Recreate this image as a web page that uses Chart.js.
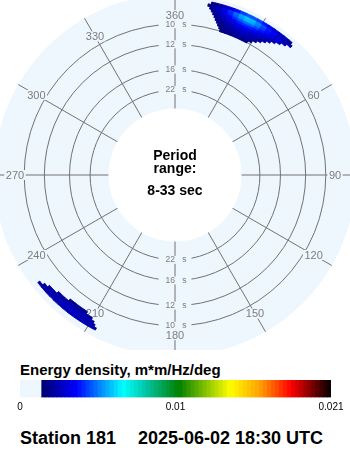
<!DOCTYPE html>
<html>
<head>
<meta charset="utf-8">
<script src="https://cdn.jsdelivr.net/npm/chart.js@4/dist/chart.umd.min.js"></script>
<style>
  html, body { margin:0; padding:0; background:#fff; }
  body { width:350px; height:450px; position:relative; overflow:hidden; font-family:"Liberation Sans", Arial, sans-serif; }
  #polarWrap { position:absolute; left:0; top:0; width:350px; height:350px; overflow:hidden; }
  #polar { position:absolute; left:-6px; top:-6px; }
  #cbTitle { position:absolute; left:20px; top:362px; font-weight:bold; font-size:15px; line-height:15px; white-space:nowrap; color:#000; }
  #cbar { position:absolute; left:0; top:370px; }
  .station { position:absolute; top:429px; font-weight:bold; font-size:18px; line-height:18px; white-space:nowrap; color:#000; }
</style>
</head>
<body>
<div id="polarWrap"><canvas id="polar" width="362" height="362"></canvas></div>
<div id="cbTitle">Energy density, m*m/Hz/deg</div>
<canvas id="cbar" width="350" height="45"></canvas>
<div class="station" id="st1" style="left:20px"></div>
<div class="station" id="st2" style="left:138px"></div>
<script>
// ---------------- data ----------------
const angleLabels = ['360','30','60','90','120','150','180','210','240','270','300','330'];
const ringPeriods = [10, 12, 16, 22];          // labelled period rings (s)
const periodRange = [8, 33];                   // s
const stationName = 'Station 181';
const timeStamp = '2025-06-02 18:30 UTC';

// radial axis: linear in frequency (Hz)
const FREQ_AT_CENTER = -0.0248;
const FREQ_AT_EDGE = 0.125;

// energy cells: frequency band edges (outer -> inner, Hz), direction bins of 2 deg
const bandEdges = [0.1215, 0.1195, 0.1175, 0.1155, 0.1135, 0.1115, 0.1095, 0.1075, 0.1055, 0.1035, 0.1015, 0.0995];
const DIR_BIN = 2;

// north-east swell: angular extent of each band (deg), first bin, energy per 2-deg bin
const neLeft  = [12.0, 11.0, 11.8, 12.5, 13.2, 13.9, 14.5, 15.2, 15.9, 16.6, 17.2];
const neRight = [41.5, 42.2, 40.5, 38.8, 37.2, 35.7, 34.3, 32.9, 31.5, 30.0, 28.5];
const neStartBin = [12, 10, 10, 12, 12, 12, 14, 14, 14, 16, 16];
const neEnergy = [
  [0.0018,0.0022,0.0027,0.0033,0.0039,0.0045,0.0048,0.0048,0.0045,0.0040,0.0035,0.0031,0.0028,0.0025,0.0022],
  [0.0015,0.0021,0.0027,0.0035,0.0043,0.0051,0.0058,0.0062,0.0060,0.0054,0.0047,0.0041,0.0036,0.0032,0.0028,0.0025,0.0021],
  [0.0015,0.0021,0.0026,0.0033,0.0041,0.0049,0.0056,0.0060,0.0058,0.0052,0.0045,0.0039,0.0034,0.0030,0.0026,0.0023],
  [0.0019,0.0024,0.0030,0.0036,0.0043,0.0048,0.0051,0.0050,0.0046,0.0040,0.0035,0.0031,0.0027,0.0024],
  [0.0017,0.0022,0.0026,0.0032,0.0037,0.0041,0.0043,0.0042,0.0039,0.0035,0.0031,0.0027,0.0024],
  [0.0016,0.0020,0.0024,0.0028,0.0032,0.0035,0.0037,0.0036,0.0033,0.0030,0.0027,0.0024],
  [0.0018,0.0021,0.0024,0.0027,0.0030,0.0031,0.0030,0.0028,0.0025,0.0023,0.0021],
  [0.0017,0.0019,0.0022,0.0025,0.0027,0.0028,0.0027,0.0025,0.0023,0.0021],
  [0.0016,0.0018,0.0020,0.0022,0.0024,0.0025,0.0024,0.0022,0.0020],
  [0.0017,0.0019,0.0020,0.0021,0.0022,0.0021,0.0019],
  [0.0016,0.0017,0.0018,0.0019,0.0019,0.0018,0.0017]
];
// south-west swell (bands 1..5)
const swLeft  = [0, 207.2, 208.1, 208.9, 210.1, 212.6, 0, 0, 0, 0, 0];
const swRight = [0, 231.9, 230.3, 228.7, 225.0, 220.2, 0, 0, 0, 0, 0];
const swStartBin = [0, 206, 208, 208, 210, 212, 0, 0, 0, 0, 0];
const swEnergy = [
  [],
  [0.0022,0.0024,0.0025,0.0026,0.0026,0.0026,0.0026,0.0026,0.0025,0.0025,0.0024,0.0023,0.0022],
  [0.0023,0.0025,0.0026,0.0027,0.0027,0.0027,0.0026,0.0026,0.0025,0.0024,0.0023,0.0022],
  [0.0022,0.0024,0.0025,0.0026,0.0026,0.0026,0.0025,0.0024,0.0023,0.0022,0.0021],
  [0.0021,0.0022,0.0023,0.0024,0.0023,0.0022,0.0021,0.0020],
  [0.0019,0.0020,0.0021,0.0020,0.0019],
  [], [], [], [], []
];

// colour scale
const VMAX = 0.021;
const THRESHOLD = 0.00142;
const cbTickValues = [0, 0.0105, 0.021];
const cbTickLabels = ['0', '0.01', '0.021'];

// ---------------- style ----------------
const DISK_COLOR = '#eef6fe';
const GRID_COLOR = '#737373';
const LABEL_COLOR = '#7d7d7d';
const TRANSPARENT = 'rgba(0,0,0,0)';
const CMAP = [
  [0.0675, [0, 0, 110]],
  [0.18,   [0, 0, 255]],
  [0.26,   [0, 140, 255]],
  [0.33,   [0, 255, 255]],
  [0.40,   [0, 200, 170]],
  [0.51,   [0, 128, 0]],
  [0.675,  [255, 255, 0]],
  [0.77,   [255, 160, 0]],
  [0.87,   [255, 0, 0]],
  [1.0,    [0, 0, 0]]
];
function cmap(v) {
  const p = v / VMAX;
  if (p <= CMAP[0][0]) return `rgb(${CMAP[0][1].join(',')})`;
  for (let i = 1; i < CMAP.length; i++) {
    if (p <= CMAP[i][0]) {
      const [p0, c0] = CMAP[i - 1], [p1, c1] = CMAP[i];
      const t = (p - p0) / (p1 - p0);
      const c = c0.map((a, k) => Math.round(a + (c1[k] - a) * t));
      return `rgb(${c.join(',')})`;
    }
  }
  return 'rgb(0,0,0)';
}
function cellColor(v) { return (v === undefined || v < THRESHOLD) ? TRANSPARENT : cmap(v); }

// ---------------- polar chart ----------------
// each frequency band is one doughnut ring: transparent gaps + coloured cells (angular widths in deg)
const bandDatasets = [];
for (let b = 0; b < bandEdges.length - 1; b++) {
  const segs = [];
  if (neEnergy[b] && neEnergy[b].length) segs.push([neLeft[b], neRight[b], neStartBin[b], neEnergy[b]]);
  if (swEnergy[b] && swEnergy[b].length) segs.push([swLeft[b], swRight[b], swStartBin[b], swEnergy[b]]);
  const widths = [], colors = [];
  let cursor = 0;
  segs.forEach(([l, r, start, vals]) => {
    widths.push(l - cursor); colors.push(TRANSPARENT);
    vals.forEach((v, k) => {
      const a = Math.max(start + k * DIR_BIN, l);
      const e = Math.min(start + (k + 1) * DIR_BIN, r);
      if (e > a) { widths.push(e - a); colors.push(cellColor(v)); }
    });
    cursor = r;
  });
  widths.push(360 - cursor); colors.push(TRANSPARENT);
  bandDatasets.push({
    data: widths,
    weight: bandEdges[b] - bandEdges[b + 1],
    backgroundColor: colors,
    borderColor: colors,
    borderWidth: colors.map(c => c === TRANSPARENT ? 0 : 1),
    borderAlign: 'center'
  });
}
const holeFreq = 1 / periodRange[1];
const datasets = [
  { data: [1], weight: FREQ_AT_EDGE - bandEdges[0], backgroundColor: TRANSPARENT, borderWidth: 0 },
  ...bandDatasets,
  { data: [1], weight: bandEdges[bandEdges.length - 1] - holeFreq, backgroundColor: TRANSPARENT, borderWidth: 0 },
  { data: [1], weight: holeFreq - FREQ_AT_CENTER, backgroundColor: '#ffffff', borderWidth: 0 }
];

const polarText = {
  id: 'polarText',
  beforeDatasetsDraw(chart) {
    const s = chart.scales.r, ctx = chart.ctx;
    ctx.save();
    ctx.textAlign = 'center';
    ctx.textBaseline = 'middle';
    // direction labels
    ctx.font = '11px "Liberation Sans", Arial, sans-serif';
    const rl = s.drawingArea * 0.884;
    angleLabels.forEach((lab, i) => {
      const p = s.getPointPosition(i, rl);
      const w = ctx.measureText(lab).width;
      ctx.fillStyle = DISK_COLOR;
      ctx.fillRect(p.x - w / 2 - 1.5, p.y - 5, w + 3, 10);
      ctx.fillStyle = LABEL_COLOR;
      ctx.fillText(lab, p.x, p.y + 0.5);
    });
    // ring labels, above and below the centre
    ctx.font = '8.5px "Liberation Sans", Arial, sans-serif';
    ringPeriods.forEach(per => {
      const d = s.getDistanceFromCenterForValue(1 / per);
      const txt = per + '   s';
      const w = ctx.measureText(txt).width;
      [-1, 1].forEach(sign => {
        const y = s.yCenter + sign * d;
        ctx.fillStyle = DISK_COLOR;
        ctx.fillRect(s.xCenter - w / 2 - 6, y - 4, w + 12, 8);
        ctx.fillStyle = LABEL_COLOR;
        ctx.fillText(txt, s.xCenter + 1, y);
      });
    });
    ctx.restore();
  },
  afterDatasetsDraw(chart) {
    const s = chart.scales.r, ctx = chart.ctx;
    ctx.save();
    ctx.fillStyle = '#000';
    ctx.textAlign = 'center';
    ctx.textBaseline = 'alphabetic';
    ctx.font = 'bold 14px "Liberation Sans", Arial, sans-serif';
    const lines = ['Period', 'range:', periodRange[0] + '-' + periodRange[1] + ' sec'];
    const offs = [-15, -2, 20];
    lines.forEach((t, i) => ctx.fillText(t, s.xCenter, s.yCenter + offs[i]));
    ctx.restore();
  }
};

new Chart(document.getElementById('polar'), {
  type: 'doughnut',
  data: { labels: angleLabels, datasets },
  options: {
    responsive: false,
    animation: false,
    events: [],
    cutout: 0,
    rotation: 0,
    circumference: 360,
    radius: (ctx) => ctx.chart.scales.r.drawingArea,
    layout: { padding: 0 },
    plugins: { legend: false, tooltip: { enabled: false } },
    scales: {
      r: {
        type: 'radialLinear',
        min: FREQ_AT_CENTER,
        max: FREQ_AT_EDGE,
        startAngle: 0,
        backgroundColor: DISK_COLOR,
        grid: { circular: true, color: GRID_COLOR, lineWidth: 1 },
        angleLines: { display: true, color: GRID_COLOR, lineWidth: 1 },
        pointLabels: { display: false },
        ticks: { display: false },
        afterBuildTicks: (sc) => { sc.ticks = ringPeriods.map(p => ({ value: 1 / p })); }
      }
    }
  },
  plugins: [polarText]
});

// ---------------- colour bar ----------------
const N_SEG = 72;
const segWidth = (VMAX - THRESHOLD) / N_SEG;
const cbDatasets = [{ data: [THRESHOLD], backgroundColor: DISK_COLOR }];
for (let i = 0; i < N_SEG; i++) {
  cbDatasets.push({ data: [segWidth], backgroundColor: cmap(THRESHOLD + (i + 0.5) * segWidth) });
}
new Chart(document.getElementById('cbar'), {
  type: 'bar',
  data: { labels: [''], datasets: cbDatasets },
  options: {
    responsive: false,
    animation: false,
    events: [],
    indexAxis: 'y',
    layout: { padding: { left: 20, right: 19, top: 10, bottom: 0 } },
    datasets: { bar: { barPercentage: 1, categoryPercentage: 1, borderWidth: 0, borderSkipped: false } },
    plugins: { legend: false, tooltip: { enabled: false } },
    scales: {
      x: {
        stacked: true, min: 0, max: VMAX,
        grid: { display: false, drawTicks: false },
        border: { display: false },
        afterBuildTicks: (sc) => { sc.ticks = cbTickValues.map(v => ({ value: v })); },
        ticks: {
          padding: 4, color: '#000', maxRotation: 0, autoSkip: false,
          font: { family: '"Liberation Sans", Arial, sans-serif', size: 10 },
          callback: (v, i) => cbTickLabels[i]
        }
      },
      y: { stacked: true, display: false }
    }
  }
});

document.getElementById('st1').textContent = stationName;
document.getElementById('st2').textContent = timeStamp;
</script>
</body>
</html>
